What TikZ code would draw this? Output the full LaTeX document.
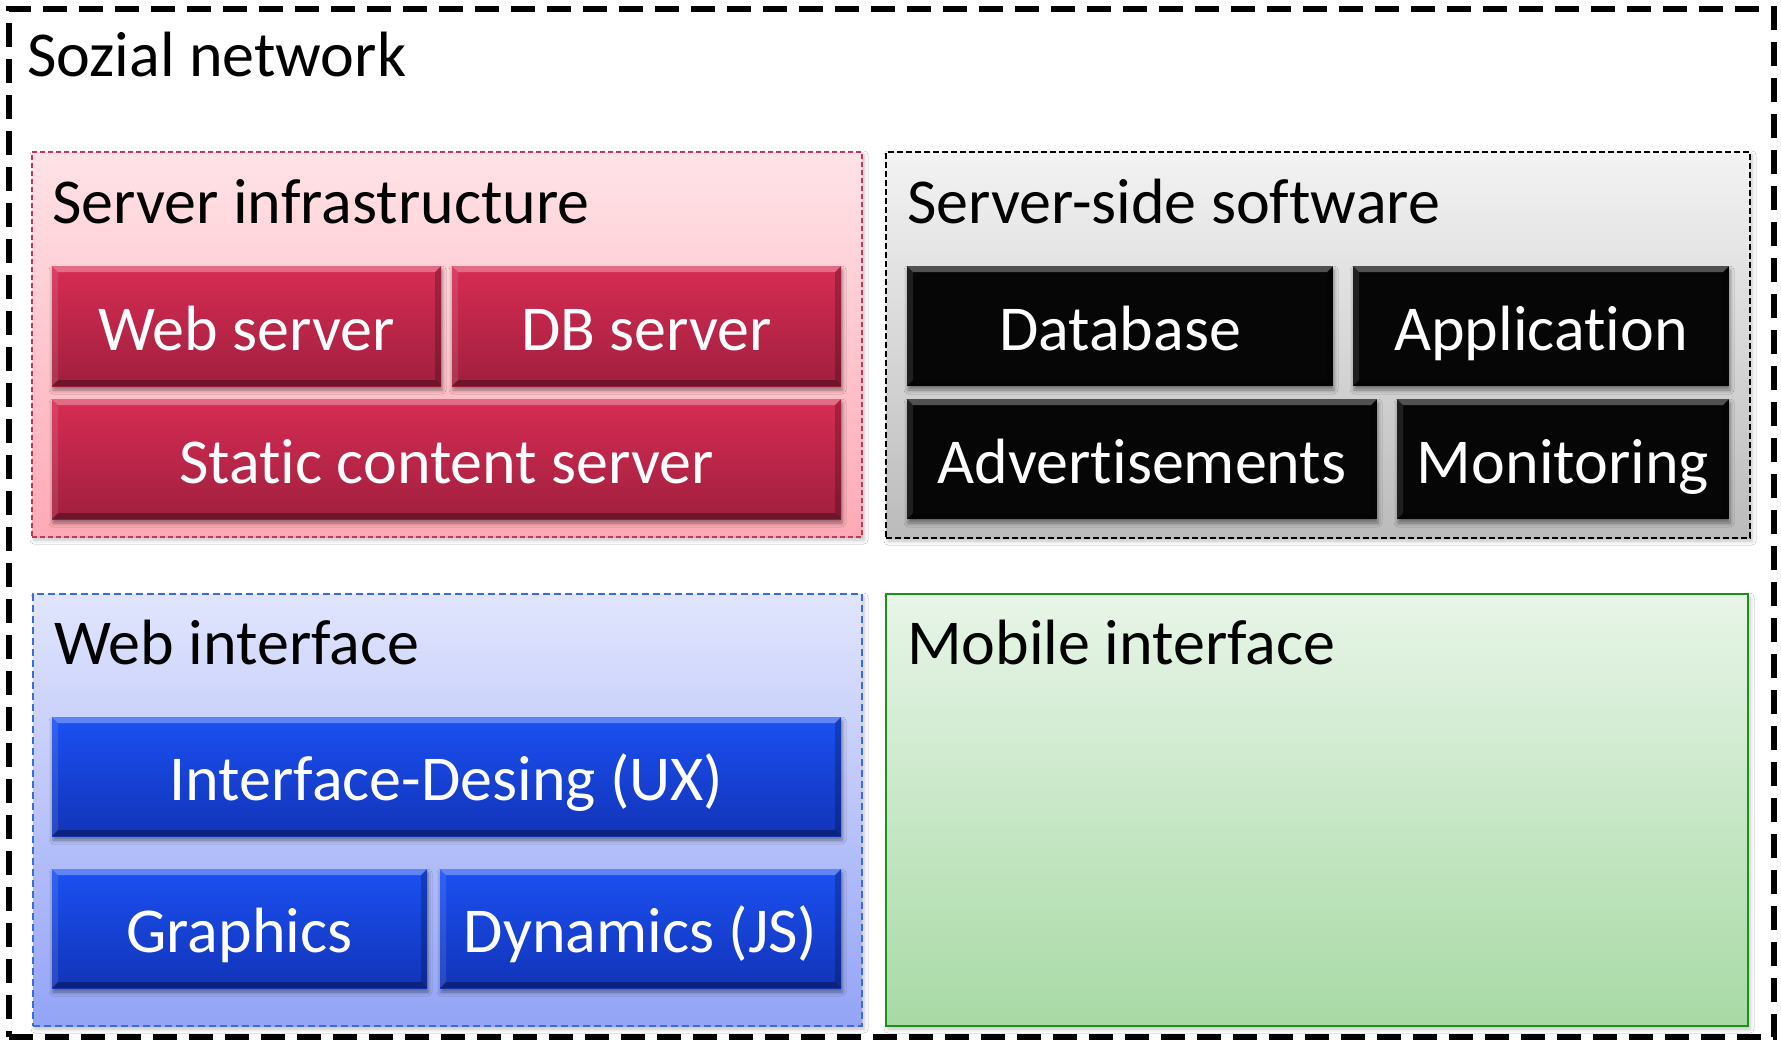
\documentclass[tikz,border=0pt]{standalone}
\usepackage{fontspec}
\setmainfont{Carlito}[Ligatures=NoCommon]
\usetikzlibrary{shadows.blur}

% colours
\definecolor{redbtnTop}{HTML}{D72C53}
\definecolor{redbtnBot}{HTML}{A01F3E}
\definecolor{redgrpTop}{HTML}{FFE3E7}
\definecolor{redgrpBot}{HTML}{FFAAB6}
\definecolor{redgrpLine}{HTML}{C8355A}
\definecolor{graygrpTop}{HTML}{F3F3F3}
\definecolor{graygrpBot}{HTML}{BBBBBB}
\definecolor{blkbtn}{HTML}{060606}
\definecolor{bluegrpTop}{HTML}{E1E5FD}
\definecolor{bluegrpBot}{HTML}{93A4F7}
\definecolor{bluegrpLine}{HTML}{3C6AE0}
\definecolor{bluebtnTop}{HTML}{1B50F2}
\definecolor{bluebtnBot}{HTML}{1234B8}
\definecolor{greengrpTop}{HTML}{E8F5E8}
\definecolor{greengrpBot}{HTML}{A8DAA5}
\definecolor{greengrpLine}{HTML}{1E8E1E}

\tikzset{
  outerframe/.style={draw=black, line width=6pt, dash pattern=on 24pt off 12pt,
    inner sep=0pt, outer sep=0pt},
  grpbox/.style={inner sep=0pt, outer sep=0pt,
    blur shadow={shadow xshift=2pt, shadow yshift=-3pt, shadow blur radius=4pt, shadow opacity=25}},
  redgrp/.style={grpbox, draw=redgrpLine, line width=1.4pt, dash pattern=on 5pt off 3pt,
    top color=redgrpTop, bottom color=redgrpBot},
  graygrp/.style={grpbox, draw=black, line width=1.4pt, dash pattern=on 6pt off 3pt,
    top color=graygrpTop, bottom color=graygrpBot},
  bluegrp/.style={grpbox, draw=bluegrpLine, line width=1.8pt, dash pattern=on 7pt off 4pt,
    top color=bluegrpTop, bottom color=bluegrpBot},
  greengrp/.style={grpbox, draw=greengrpLine, line width=2pt,
    top color=greengrpTop, bottom color=greengrpBot},
  grptitle/.style={anchor=base west, inner sep=0pt, text=black,
    font=\fontsize{64}{76}\selectfont},
  bevel/.style={path picture={
    \coordinate (bnw) at (path picture bounding box.north west);
    \coordinate (bne) at (path picture bounding box.north east);
    \coordinate (bsw) at (path picture bounding box.south west);
    \coordinate (bse) at (path picture bounding box.south east);
    \fill[white, opacity=.30] (bnw) -- (bne) -- ([shift={(-6pt,-6pt)}]bne) -- ([shift={(6pt,-6pt)}]bnw) -- cycle;
    \fill[white, opacity=.10] (bnw) -- ([shift={(6pt,-6pt)}]bnw) -- ([shift={(6pt,6pt)}]bsw) -- (bsw) -- cycle;
    \fill[black, opacity=.22] (bne) -- (bse) -- ([shift={(-6pt,6pt)}]bse) -- ([shift={(-6pt,-6pt)}]bne) -- cycle;
    \fill[black, opacity=.32] (bsw) -- (bse) -- ([shift={(-6pt,6pt)}]bse) -- ([shift={(6pt,6pt)}]bsw) -- cycle;
  }},
  btn/.style={rectangle, inner sep=0pt, outer sep=0pt, text=white,
    font=\fontsize{64}{76}\selectfont, text height=59pt, text depth=11pt,
    blur shadow={shadow xshift=1pt, shadow yshift=-4pt, shadow blur radius=4pt, shadow opacity=45},
    bevel},
  redbtn/.style={btn, top color=redbtnTop, bottom color=redbtnBot},
  blkbtn/.style={btn, fill=blkbtn},
  bluebtn/.style={btn, top color=bluebtnTop, bottom color=bluebtnBot},
}

\begin{document}
\begin{tikzpicture}[x=1pt, y=-1pt]
  \useasboundingbox[fill=white] (0,0) rectangle (1781,1041);

  % whole system
  \node[outerframe, minimum width=1765pt, minimum height=1028pt] (net) at (891.5,523) {};
  \node[grptitle] (netT) at (27,77) {Sozial network};

  % server infrastructure
  \node[redgrp, minimum width=830pt, minimum height=385pt] (infra) at (447,344.5) {};
  \node[grptitle] (infraT) at (52,223) {Server infrastructure};
  \node[redbtn, minimum width=389pt, minimum height=120pt] (websrv) at (246.5,326) {Web server};
  \node[redbtn, minimum width=389pt, minimum height=120pt] (dbsrv) at (646.5,326) {DB server};
  \node[redbtn, minimum width=789pt, minimum height=120pt] (static) at (446.5,459) {Static content server};

  % server-side software
  \node[graygrp, minimum width=864pt, minimum height=386pt] (soft) at (1318,345) {};
  \node[grptitle] (softT) at (907,223) {Server-side software};
  \node[blkbtn, minimum width=426pt, minimum height=120pt] (database) at (1120,326) {Database};
  \node[blkbtn, minimum width=376pt, minimum height=120pt] (app) at (1541,326) {Application};
  \node[blkbtn, minimum width=470pt, minimum height=120pt] (ads) at (1142,459) {Advertisements};
  \node[blkbtn, minimum width=332pt, minimum height=120pt] (mon) at (1563,459) {Monitoring};

  % web interface
  \node[bluegrp, minimum width=829pt, minimum height=432pt] (web) at (447.5,810) {};
  \node[grptitle] (webT) at (54,664) {Web interface};
  \node[bluebtn, minimum width=789pt, minimum height=119pt] (ux) at (446.5,776.5) {Interface-Desing (UX)};
  \node[bluebtn, minimum width=375pt, minimum height=119pt] (gfx) at (239.5,928.5) {Graphics};
  \node[bluebtn, minimum width=401pt, minimum height=119pt] (js) at (640.5,928.5) {Dynamics (JS)};

  % mobile interface
  \node[greengrp, minimum width=862pt, minimum height=432pt] (mobile) at (1317,810) {};
  \node[grptitle] (mobileT) at (907,664) {Mobile interface};
\end{tikzpicture}
\end{document}
